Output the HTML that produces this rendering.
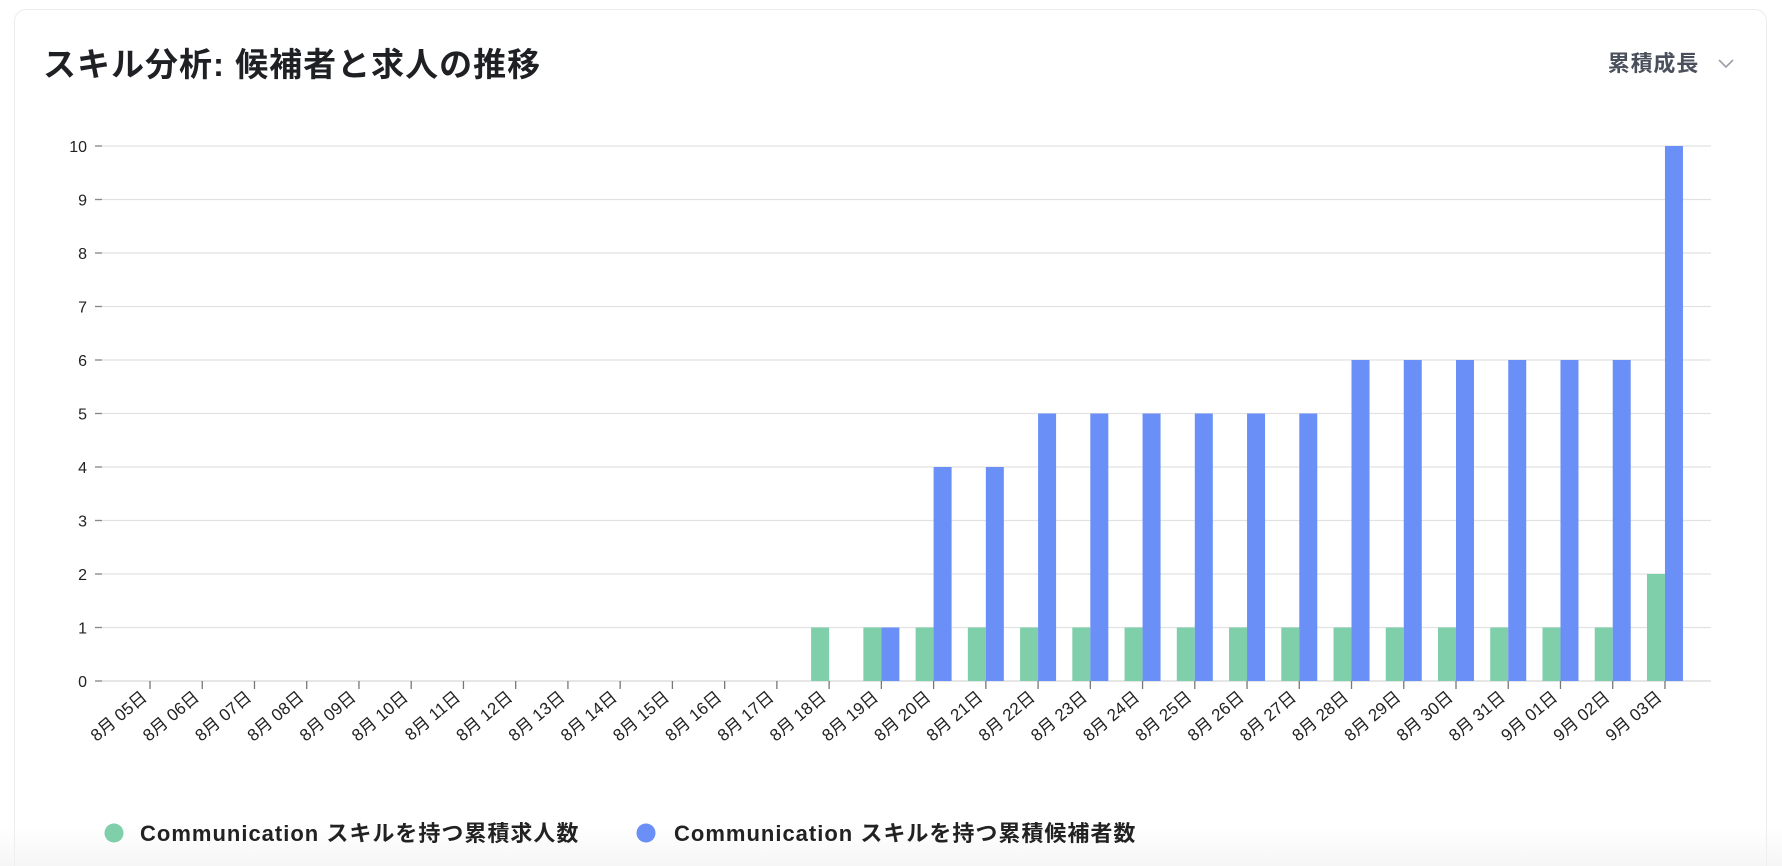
<!DOCTYPE html>
<html><head><meta charset="utf-8"><style>
html,body{margin:0;padding:0;background:#fff;width:1782px;height:866px;overflow:hidden}
.wrap{position:relative;width:1782px;height:866px;overflow:hidden}
.card{position:absolute;left:14px;top:9px;width:1753px;height:857px;border:1px solid #ececef;border-bottom:none;border-radius:12px 12px 0 0;background:#fff;box-sizing:border-box}
.fade{position:absolute;left:0;top:826px;width:1782px;height:40px;background:linear-gradient(rgba(255,255,255,0),rgba(242,242,242,0.7))}
svg{position:absolute;left:0;top:0}
</style></head><body><div class="wrap">
<div class="card"></div>
<div class="fade"></div>
<svg width="1782" height="866" xmlns="http://www.w3.org/2000/svg" font-family="Liberation Sans, Noto Sans CJK JP, sans-serif">
<text x="43" y="76" font-size="33" font-weight="bold" letter-spacing="1" fill="#1f2024">スキル分析: 候補者と求人の推移</text>
<text x="1699" y="71" font-size="22" font-weight="bold" letter-spacing="0.8" fill="#4a4f5c" text-anchor="end">累積成長</text>
<polyline points="1719,60 1726,67 1733,60" fill="none" stroke="#9aa0a8" stroke-width="1.6"/>
<g id="grid" stroke="#dedede" stroke-width="1.3"></g>
<g id="ylab" font-size="16" fill="#222" text-anchor="end"></g>
<g id="bars"></g>
<g id="xlab" font-size="17" fill="#222" text-anchor="end"></g>
<circle cx="114" cy="833" r="9.5" fill="#7fcfaa"/>
<text x="140" y="841" font-size="22" font-weight="bold" letter-spacing="1" fill="#222">Communication スキルを持つ累積求人数</text>
<circle cx="646" cy="833" r="9.5" fill="#6a8ff7"/>
<text x="674" y="841" font-size="22" font-weight="bold" letter-spacing="1" fill="#222">Communication スキルを持つ累積候補者数</text>
</svg>
<script>
var ns="http://www.w3.org/2000/svg";
function el(t,a,p,txt){var e=document.createElementNS(ns,t);for(var k in a)e.setAttribute(k,a[k]);if(txt!=null)e.textContent=txt;document.getElementById(p).appendChild(e);}
var y0=681,u=53.5;
for(var i=0;i<=10;i++){var y=y0-i*u;el('line',{x1:95,x2:1711,y1:y,y2:y,stroke:i==0?'#d6d6d6':'#e2e2e2'},'grid');el('line',{x1:95,x2:102,y1:y,y2:y,stroke:'#888'},'grid');el('text',{x:87,y:y+6},'ylab',String(i));}
var labels=[];for(var d=5;d<=31;d++)labels.push('8月 '+(d<10?'0':'')+d+'日');labels.push('9月 01日','9月 02日','9月 03日');
var g=[0,0,0,0,0,0,0,0,0,0,0,0,0,1,1,1,1,1,1,1,1,1,1,1,1,1,1,1,1,2];
var b=[0,0,0,0,0,0,0,0,0,0,0,0,0,0,1,4,4,5,5,5,5,5,5,6,6,6,6,6,6,10];
for(var i=0;i<30;i++){var x=150+i*52.24;
el('line',{x1:x,x2:x,y1:681,y2:689,stroke:'#777','stroke-width':1.3},'grid');
if(g[i])el('rect',{x:x-18,y:y0-g[i]*u,width:18,height:g[i]*u,fill:'#7fcfaa'},'bars');
if(b[i])el('rect',{x:x,y:y0-b[i]*u,width:18,height:b[i]*u,fill:'#6a8ff7'},'bars');
el('text',{transform:'translate('+(x-2)+',699) rotate(-40)'},'xlab',labels[i]);}
</script>
</div></body></html>
